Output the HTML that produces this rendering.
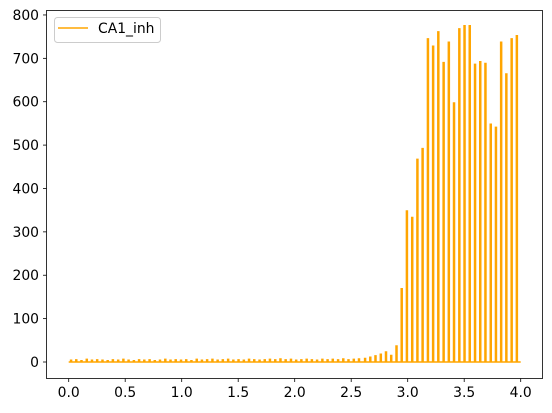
<!DOCTYPE html>
<html><head><meta charset="utf-8"><style>
body{margin:0;background:#fff}
svg{display:block;font-family:"DejaVu Sans","Liberation Sans",sans-serif}
</style></head><body>
<svg id="chart" width="552" height="413" viewBox="0 0 552 413" xmlns="http://www.w3.org/2000/svg">
<g id="plot"></g>
<g id="axes"></g>
<g>
<rect x="54.5" y="17.5" width="106" height="25" rx="3" fill="#fff" fill-opacity="0.8" stroke="#ccc"/>
<line x1="58" y1="28" x2="88" y2="28" stroke="orange" stroke-width="1.5"/>
<text x="98" y="33" font-size="13.9" fill="#000">CA1_inh</text>
</g>
</svg>
<script>
const spikeTimes=[0.021,0.067,0.113,0.160,0.206,0.252,0.299,0.345,0.391,0.438,0.484,0.530,0.577,0.623,0.669,0.716,0.762,0.808,0.855,0.901,0.947,0.994,1.040,1.086,1.133,1.179,1.225,1.272,1.318,1.364,1.411,1.457,1.503,1.550,1.596,1.642,1.689,1.735,1.781,1.828,1.874,1.920,1.967,2.013,2.059,2.106,2.152,2.198,2.245,2.291,2.337,2.384,2.430,2.476,2.523,2.569,2.623,2.669,2.715,2.762,2.808,2.854,2.901,2.947,2.993,3.040,3.086,3.132,3.179,3.225,3.271,3.318,3.364,3.410,3.457,3.503,3.549,3.596,3.642,3.688,3.735,3.781,3.827,3.873,3.920,3.966];
const spikeValues=[4,5,3,6,4,5,4,3,5,4,6,4,3,5,4,5,3,4,6,4,5,4,5,3,6,4,5,6,4,5,6,4,5,4,6,5,4,5,6,5,7,5,6,4,5,6,5,4,6,5,6,5,7,5,6,7,8,11,14,18,23,15,37,169,348,333,467,492,745,728,761,690,737,597,768,775,775,686,692,688,548,541,737,664,745,752];
const xTicks=[0,0.5,1.0,1.5,2.0,2.5,3.0,3.5,4.0];
const xTickLabels=["0.0","0.5","1.0","1.5","2.0","2.5","3.0","3.5","4.0"];
const yTicks=[0,100,200,300,400,500,600,700,800];
const yTickLabels=["0","100","200","300","400","500","600","700","800"];
const X=v=>68.7+v*113;
const Y=v=>362-v*0.4338;
const NS="http://www.w3.org/2000/svg";
const plot=document.getElementById('plot'),axes=document.getElementById('axes');
function mk(tag,attrs,parent){const e=document.createElementNS(NS,tag);for(const k in attrs)e.setAttribute(k,attrs[k]);parent.appendChild(e);return e;}
let d=`M${X(0)},${Y(0)}`;
spikeTimes.forEach((t,i)=>{const x=X(t),y=Y(spikeValues[i]);d+=` L${x-0.5},${Y(0)} L${x-0.5},${y} L${x+0.5},${y} L${x+0.5},${Y(0)}`;});
d+=` L${X(4)},${Y(0)}`;
const line=mk('path',{d:d,fill:'none',stroke:'orange','stroke-width':1.5,'stroke-linejoin':'miter'},plot);


const frame=mk('rect',{x:46.5,y:10.5,width:496,height:368,fill:'none',stroke:'#000','stroke-width':0.8},axes);


xTicks.forEach((v,i)=>{
 const tk=mk('line',{x1:X(v),x2:X(v),y1:378.5,y2:382,stroke:'#000','stroke-width':0.8},axes);
 
 
 const tx=mk('text',{x:X(v),y:397,'font-size':13.9,'text-anchor':'middle'},axes);
 tx.textContent=xTickLabels[i];
 
 
});
yTicks.forEach((v,i)=>{
 const tk=mk('line',{x1:43,x2:46.5,y1:Y(v),y2:Y(v),stroke:'#000','stroke-width':0.8},axes);
 
 
 const tx=mk('text',{x:39,y:Y(v)+5,'font-size':13.9,'text-anchor':'end'},axes);
 tx.textContent=yTickLabels[i];
 
 
});
</script>
</body></html>
